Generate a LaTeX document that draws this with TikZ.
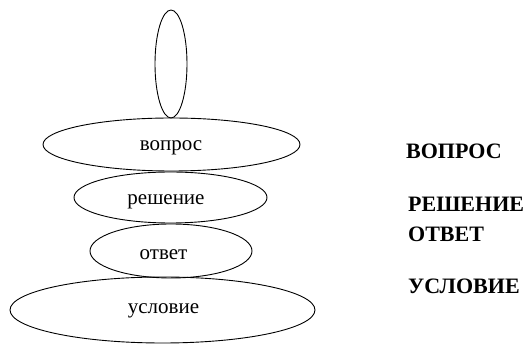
\documentclass[tikz,border=0pt]{standalone}
\usepackage{fontspec}
\setmainfont{Liberation Serif}
\usetikzlibrary{shapes.geometric}
\tikzset{
  ell/.style={draw=black, line width=0.9pt, ellipse, inner sep=0pt},
  intext/.style={anchor=base, inner sep=0pt, font=\fontsize{21}{23}\selectfont},
  captext/.style={anchor=base west, inner sep=0pt, font=\fontsize{22}{24}\selectfont\bfseries},
}
\begin{document}
\begin{tikzpicture}[x=1pt,y=-1pt]
\useasboundingbox (0,0) rectangle (531,344);
\fill[white] (0,0) rectangle (531,344);
\node[ell, minimum width=32pt, minimum height=108pt] (top) at (171,64) {};
\node[ell, minimum width=257pt, minimum height=53pt] (vopros) at (171.5,144.5) {};
\node[ell, minimum width=193pt, minimum height=51pt] (reshenie) at (170.5,197.5) {};
\node[ell, minimum width=162pt, minimum height=54pt] (otvet) at (171,251) {};
\node[ell, minimum width=305pt, minimum height=66pt] (uslovie) at (162.5,310) {};
\node[intext] (t1) at (171,151) {вопрос};
\node[intext] (t2) at (166,205) {решение};
\node[intext] (t3) at (163.5,260) {ответ};
\node[intext] (t4) at (163.5,314) {условие};
\node[captext] (c1) at (406,159) {ВОПРОС};
\node[captext] (c2) at (408,212) {РЕШЕНИЕ};
\node[captext] (c3) at (408,242) {ОТВЕТ};
\node[captext] (c4) at (408,294) {УСЛОВИЕ};
\end{tikzpicture}
\end{document}
